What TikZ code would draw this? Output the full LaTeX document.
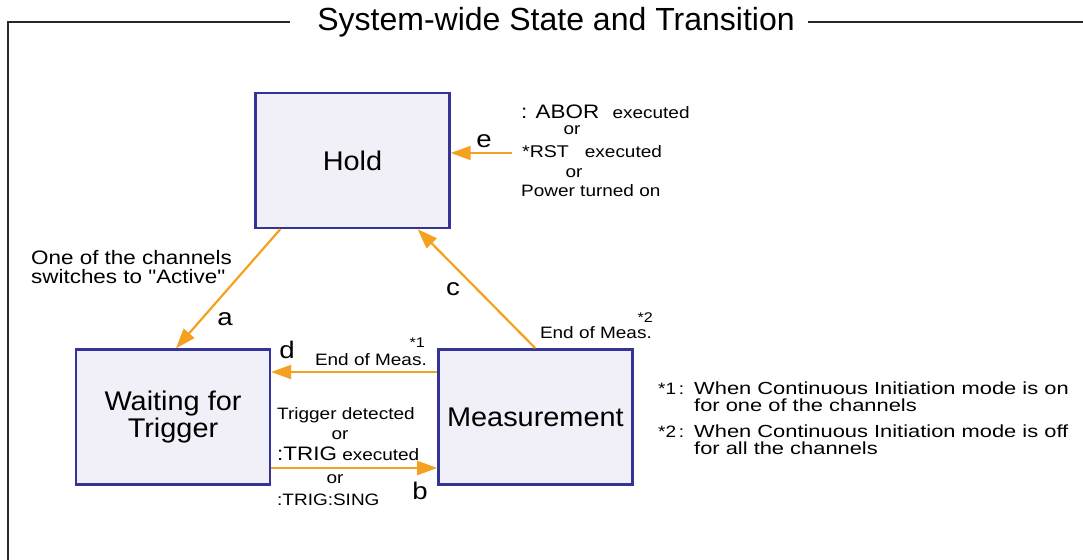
\documentclass[tikz,border=0pt]{standalone}
\usepackage{fontspec}
\setmainfont{Liberation Sans}
\newfontfamily\lblfont[FakeStretch=1.15]{Liberation Sans}
\newfontfamily\notefont[FakeStretch=1.25]{Liberation Sans}
\newfontfamily\boxfont[FakeStretch=1.07]{Liberation Sans}
\usepackage{tikz}
\usetikzlibrary{arrows.meta,positioning}
\usepackage{xcolor}
\definecolor{stateblue}{RGB}{52,52,150}
\definecolor{statefill}{RGB}{241,240,248}
\definecolor{transorange}{RGB}{245,160,30}
\definecolor{framegray}{RGB}{40,40,40}
\newcommand{\bigtxt}{\fontsize{19.5}{19.5}\selectfont}

\begin{document}
\begin{tikzpicture}[
  x=1pt, y=-1pt,
  state/.style={draw=stateblue, fill=statefill, line width=2.4pt, minimum width=194pt, minimum height=135pt, align=center, font=\boxfont\fontsize{27}{25}\selectfont},
  trans/.style={draw=transorange, line width=2.2pt, -{Triangle[length=20pt, width=14pt]}},
  sysframe/.style={draw=framegray, line width=2.2pt},
  lblsmall/.style={inner sep=0pt, font=\lblfont\fontsize{16.5}{16.5}\selectfont},
  lblnote/.style={inner sep=0pt, anchor=base west, font=\lblfont\fontsize{19.5}{19.5}\selectfont},
  lblfoot/.style={inner sep=0pt, anchor=base west, font=\notefont\fontsize{17.5}{17.5}\selectfont},
  lbltag/.style={inner sep=0pt, anchor=base, font=\lblfont\fontsize{24}{24}\selectfont}
]
\useasboundingbox (0,0) rectangle (1083,559);
\node[inner sep=0pt, anchor=base, font=\fontsize{32}{32}\selectfont] (title) at (556,31) {System-wide State and Transition};
\draw[sysframe] (290,22) -- (8,22) -- (8,562);
\draw[sysframe] (808,22) -- (1086,22);

\node[state] (hold) at (352.5,160.5) {Hold};
\node[state] (wait) at (173,417) {Waiting for\\Trigger};
\node[state, right=166pt of wait] (meas) {Measurement};

\coordinate (estart) at (512,153);
\draw[trans] (estart) -- ([yshift=7.5pt]hold.east);
\draw[trans] ([xshift=26pt]hold.south west) -- ([xshift=3pt]wait.north);
\draw[trans] (meas.north) -- ([xshift=-33pt]hold.south east);
\draw[trans] ([yshift=45pt]meas.west) -- ([yshift=45pt]wait.east);
\draw[trans] ([yshift=-51pt]wait.east) -- ([yshift=-51pt]meas.west);

\node[lbltag] (lble) at (484,147) {e};
\node[lbltag] (lbla) at (225,325) {a};
\node[lbltag] (lblc) at (453,295) {c};
\node[lbltag] (lbld) at (287,358) {d};
\node[lbltag] (lblb) at (420,499) {b};

\node[lblsmall, anchor=base west] (abor) at (521,118) {{\bigtxt: ABOR}\hspace{8pt} executed};
\node[lblsmall, anchor=base] (or1) at (572,135) {or};
\node[lblsmall, anchor=base west] (rst) at (522,157) {{\fontsize{17}{17}\selectfont*RST}\hspace{16pt}executed};
\node[lblsmall, anchor=base] (or2) at (574,177) {or};
\node[lblsmall, anchor=base west] (power) at (521,196) {Power turned on};

\node[lblnote] (chan1) at (31,264) {One of the channels};
\node[lblnote] (chan2) at (31,283) {switches to "Active"};

\node[lblsmall, anchor=base east, font=\lblfont\fontsize{14}{14}\selectfont] (star1) at (425,347) {*1};
\node[lblsmall, anchor=base east] (endd) at (427,365) {End of Meas.};
\node[lblsmall, anchor=base east, font=\lblfont\fontsize{14}{14}\selectfont] (star2) at (653,322) {*2};
\node[lblsmall, anchor=base east] (endc) at (652,338) {End of Meas.};

\node[lblsmall, anchor=base west] (trig1) at (277,419) {Trigger detected};
\node[lblsmall, anchor=base] (or3) at (340,439) {or};
\node[lblsmall, anchor=base west] (trig2) at (277,460) {{\bigtxt:TRIG} executed};
\node[lblsmall, anchor=base] (or4) at (335,483) {or};
\node[lblsmall, anchor=base west] (trig3) at (277,505) {:TRIG:SING};

\node[lblsmall, anchor=base west] (mark1) at (658,394) {*1\,:};
\node[lblfoot] (note1a) at (694,394) {When Continuous Initiation mode is on};
\node[lblfoot] (note1b) at (694,411) {for one of the channels};
\node[lblsmall, anchor=base west] (mark2) at (658,437) {*2\,:};
\node[lblfoot] (note2a) at (694,437) {When Continuous Initiation mode is off};
\node[lblfoot] (note2b) at (694,454) {for all the channels};
\end{tikzpicture}
\end{document}
